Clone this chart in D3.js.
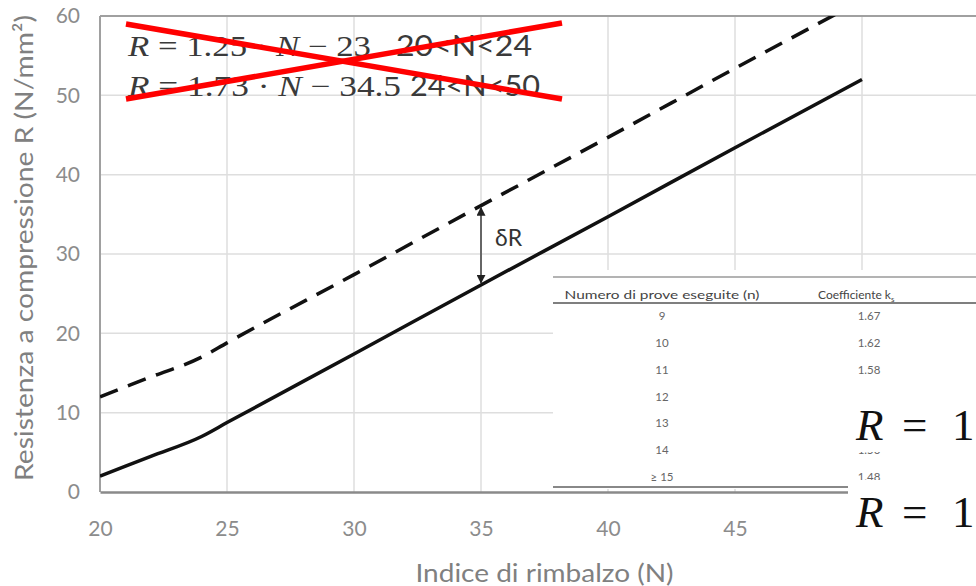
<!DOCTYPE html>
<html>
<head>
<meta charset="utf-8">
<script src="https://cdn.jsdelivr.net/npm/d3@7"></script>
<style>
  body { margin: 0; background: #fff; }
  svg { display: block; }
</style>
</head>
<body>
<svg id="chart" width="976" height="586"></svg>
<script>
// rebound index N and the two curves
let indexN = [20, 22, 24, 25, 30, 35, 40, 45, 50];
let meanR = [2, 4.5, 7, 8.75, 17.4, 26.1, 34.7, 43.4, 52];
let upperR = [12, 14.5, 17, 18.8, 27.4, 36.1, 44.7, 53.4, 62];
let xTicks = [20, 25, 30, 35, 40, 45, 50];
let yTicks = [0, 10, 20, 30, 40, 50, 60];
let deltaAt = 35;

// k coefficient table
let tableN = ["9", "10", "11", "12", "13", "14", "\u2265 15"];
let tableK = ["1.67", "1.62", "1.58", "1.55", "1.52", "1.50", "1.48"];

// equations (crossed out)
let eqFormulas = ["1.25 \u00b7 ", "1.73 \u00b7 "];
let eqConst = ["23", "34.5"];
let eqRange = ["20<N<24", "24<N<50"];

let svg = d3.select("#chart"),
    plotLeft = 100, plotRight = 989, plotTop = 16, plotBottom = 492;

let x = d3.scaleLinear().domain([20, 55]).range([plotLeft, plotRight]);
let y = d3.scaleLinear().domain([0, 60]).range([plotBottom, plotTop]);

let labelFont = "Lato, 'Open Sans', sans-serif";

// gridlines
svg.append("g").selectAll("line")
   .data(xTicks.slice(1))
   .enter().append("line")
   .attr("x1", d => x(d)).attr("x2", d => x(d))
   .attr("y1", plotTop).attr("y2", plotBottom)
   .attr("stroke", "#dedede").attr("stroke-width", 1.5);

svg.append("g").selectAll("line")
   .data(yTicks.slice(1, -1))
   .enter().append("line")
   .attr("x1", plotLeft).attr("x2", 976)
   .attr("y1", d => y(d)).attr("y2", d => y(d))
   .attr("stroke", "#dedede").attr("stroke-width", 1.5);

// frame
svg.append("line").attr("x1", plotLeft).attr("x2", 976).attr("y1", plotTop).attr("y2", plotTop)
   .attr("stroke", "#a0a0a0").attr("stroke-width", 2);
svg.append("line").attr("x1", plotLeft).attr("x2", plotLeft).attr("y1", plotTop).attr("y2", plotBottom)
   .attr("stroke", "#a0a0a0").attr("stroke-width", 2);

// axes
let xAxis = svg.append("g")
   .attr("transform", `translate(0,${plotBottom})`)
   .call(d3.axisBottom(x).tickValues(xTicks).tickSize(0).tickPadding(29));
xAxis.select(".domain").attr("stroke", "#8a8a8a").attr("stroke-width", 2.5);
xAxis.selectAll("text").style("font-family", labelFont).style("font-size", "21px").attr("fill", "#8c8c8c");

let yAxis = svg.append("g")
   .attr("transform", `translate(${plotLeft},0)`)
   .call(d3.axisLeft(y).tickValues(yTicks).tickSize(0).tickPadding(20));
yAxis.select(".domain").remove();
yAxis.selectAll("text").style("font-family", labelFont).style("font-size", "21px").attr("fill", "#8c8c8c");

// axis titles
svg.append("text")
   .attr("x", (plotLeft + plotRight) / 2).attr("y", 582)
   .attr("text-anchor", "middle")
   .attr("textLength", 258).attr("lengthAdjust", "spacingAndGlyphs")
   .style("font-family", labelFont).style("font-size", "25px")
   .attr("fill", "#808080")
   .text("Indice di rimbalzo (N)");

svg.append("text")
   .attr("transform", `translate(33,${(plotTop + plotBottom) / 2 - 6}) rotate(-90)`)
   .attr("text-anchor", "middle")
   .attr("textLength", 466).attr("lengthAdjust", "spacingAndGlyphs")
   .style("font-family", labelFont).style("font-size", "25px")
   .attr("fill", "#808080")
   .text("Resistenza a compressione R (N/mm\u00b2)");

// curves
let defs = svg.append("defs");
defs.append("clipPath").attr("id", "plotClip")
   .append("rect").attr("x", plotLeft).attr("y", plotTop)
   .attr("width", plotRight - plotLeft).attr("height", plotBottom - plotTop);

let line = d3.line().x((d, i) => x(indexN[i])).y(d => y(d)).curve(d3.curveMonotoneX);

svg.append("path")
   .attr("clip-path", "url(#plotClip)")
   .attr("d", line(upperR))
   .attr("fill", "none").attr("stroke", "#111").attr("stroke-width", 3.5)
   .attr("stroke-dasharray", "19,11");

svg.append("path")
   .attr("clip-path", "url(#plotClip)")
   .attr("d", line(meanR))
   .attr("fill", "none").attr("stroke", "#111").attr("stroke-width", 3.5);

// delta R arrow
defs.append("marker").attr("id", "arrowHead")
    .attr("viewBox", "0 0 10 10").attr("refX", 9).attr("refY", 5)
    .attr("markerWidth", 4.5).attr("markerHeight", 4.5).attr("orient", "auto-start-reverse")
    .append("path").attr("d", "M0,0 L10,5 L0,10 Z").attr("fill", "#222");

let di = indexN.indexOf(deltaAt);
svg.append("line")
   .attr("x1", x(deltaAt)).attr("x2", x(deltaAt))
   .attr("y1", y(upperR[di]) + 2).attr("y2", y(meanR[di]) - 2)
   .attr("stroke", "#666").attr("stroke-width", 2)
   .attr("marker-start", "url(#arrowHead)").attr("marker-end", "url(#arrowHead)");

svg.append("text")
   .attr("x", x(deltaAt) + 14).attr("y", 246)
   .style("font-family", labelFont).style("font-size", "23px")
   .attr("fill", "#333")
   .text("\u03b4R");

// crossed-out equations
let eqFont = "'Liberation Serif', 'DejaVu Serif', serif";
let eq = svg.append("g").attr("fill", "#3a3a3a")
            .style("font-family", eqFont).style("font-size", "29px");

eqFormulas.forEach(function(f, i) {
    let by = 56 + i * 40;
    let t = eq.append("text").attr("x", 128).attr("y", by)
              .attr("textLength", i == 0 ? 243 : 273).attr("lengthAdjust", "spacingAndGlyphs");
    t.append("tspan").style("font-style", "italic").text("R");
    t.append("tspan").text(" = " + f);
    t.append("tspan").style("font-style", "italic").text("N");
    t.append("tspan").text(" \u2212 " + eqConst[i]);
    eq.append("text").attr("x", i == 0 ? 396 : 410).attr("y", by)
      .attr("textLength", i == 0 ? 136 : 130).attr("lengthAdjust", "spacingAndGlyphs")
      .style("font-family", labelFont)
      .text(eqRange[i]);
});

let cross = [[126, 24, 562, 99], [126, 99, 562, 23]];
svg.append("g").selectAll("line")
   .data(cross)
   .enter().append("line")
   .attr("x1", d => d[0]).attr("y1", d => d[1])
   .attr("x2", d => d[2]).attr("y2", d => d[3])
   .attr("stroke", "#ff0000").attr("stroke-width", 5.5);

// table overlay
let tab = svg.append("g");
tab.append("rect").attr("x", 553).attr("y", 270).attr("width", 423).attr("height", 219).attr("fill", "#fff");
tab.append("line").attr("x1", 553).attr("x2", 976).attr("y1", 277).attr("y2", 277)
   .attr("stroke", "#9a9a9a").attr("stroke-width", 1.5);
tab.append("line").attr("x1", 553).attr("x2", 976).attr("y1", 303).attr("y2", 303)
   .attr("stroke", "#555").attr("stroke-width", 1.5);
tab.append("line").attr("x1", 553).attr("x2", 976).attr("y1", 487).attr("y2", 487)
   .attr("stroke", "#888").attr("stroke-width", 2);

let tabFont = "Lato, 'Open Sans', sans-serif";
tab.append("text").attr("x", 662).attr("y", 299).attr("text-anchor", "middle")
   .style("font-family", tabFont).style("font-size", "12px").attr("fill", "#444")
   .attr("textLength", 195).attr("lengthAdjust", "spacingAndGlyphs")
   .text("Numero di prove eseguite (n)");
let kh = tab.append("text").attr("x", 818).attr("y", 299)
   .style("font-family", tabFont).style("font-size", "12px").attr("fill", "#444");
kh.append("tspan").text("Coefficiente k");
kh.append("tspan").attr("dy", 3).style("font-size", "8px").text("s");

let row = d3.scaleBand().domain(d3.range(tableN.length)).range([303, 490]);
tab.selectAll(".cn").data(tableN).enter().append("text")
   .attr("x", 662).attr("y", (d, i) => row(i) + row.bandwidth() / 2 + 4)
   .attr("text-anchor", "middle")
   .style("font-family", tabFont).style("font-size", "11.5px").attr("fill", "#666")
   .text(d => d);

// k column is partly covered by the pasted fragments, so clip it to the visible bands
let kClip = defs.append("clipPath").attr("id", "kClip");
kClip.append("rect").attr("x", 553).attr("y", 303).attr("width", 423).attr("height", 90);
kClip.append("rect").attr("x", 553).attr("y", 452).attr("width", 423).attr("height", 28);
tab.append("g").attr("clip-path", "url(#kClip)")
   .selectAll("text").data(tableK).enter().append("text")
   .attr("x", 869).attr("y", (d, i) => row(i) + row.bandwidth() / 2 + 4)
   .attr("text-anchor", "middle")
   .style("font-family", tabFont).style("font-size", "11.5px").attr("fill", "#666")
   .text(d => d);

// pasted equation fragments
let boxes = [[852, 393, 59, 440], [848, 480, 106, 527]];
boxes.forEach(function(b) {
    svg.append("rect").attr("x", b[0]).attr("y", b[1]).attr("width", 976 - b[0]).attr("height", b[2]).attr("fill", "#fff");
    let t = svg.append("text").attr("y", b[3])
               .style("font-family", eqFont).style("font-size", "45px").attr("fill", "#111");
    t.append("tspan").attr("x", 856).style("font-style", "italic").text("R");
    t.append("tspan").attr("x", 902).text("=");
    t.append("tspan").attr("x", 952).text("1");
});
</script>
</body>
</html>
